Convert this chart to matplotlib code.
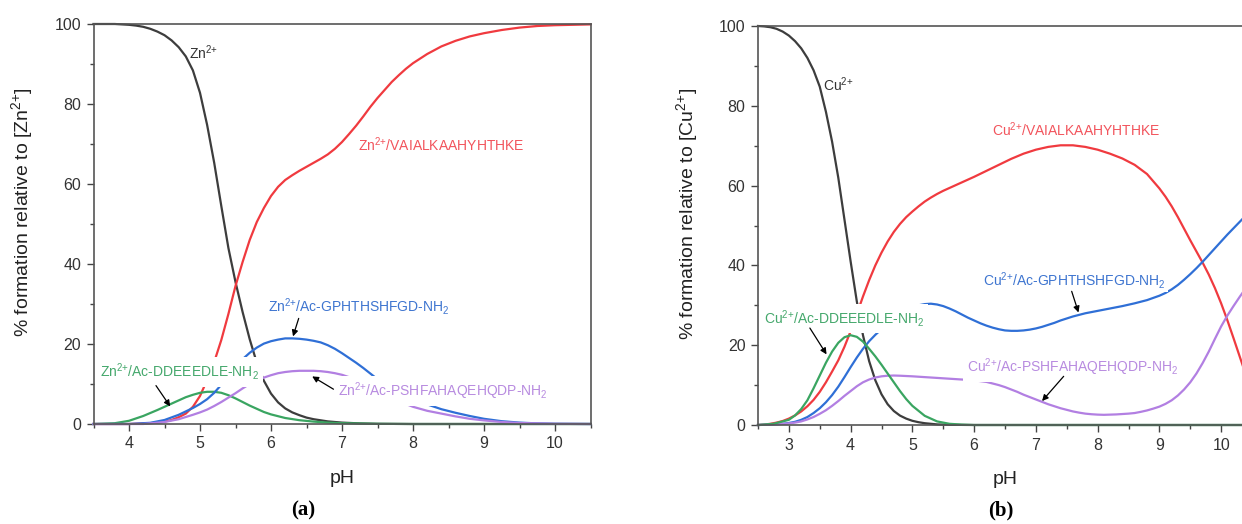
import matplotlib
matplotlib.use("Agg")
import matplotlib.pyplot as plt
from matplotlib.ticker import MultipleLocator

plt.rcParams['font.family'] = ['Liberation Sans', 'DejaVu Sans']
plt.rcParams['mathtext.fontset'] = 'custom'
plt.rcParams['mathtext.rm'] = 'Liberation Sans'
plt.rcParams['mathtext.it'] = 'Liberation Sans:italic'
plt.rcParams['mathtext.bf'] = 'Liberation Sans:bold'

# ---------------- Panel (a): Zn(II) ----------------
zn_free_ph = [3.5, 3.8, 4.0, 4.1, 4.2, 4.3, 4.4, 4.5, 4.6, 4.7, 4.8, 4.9, 5.0, 5.1, 5.2,
              5.3, 5.4, 5.5, 5.6, 5.7, 5.8, 5.9, 6.0, 6.1, 6.2, 6.3, 6.4, 6.5, 6.6, 6.8,
              7.0, 7.25, 7.5, 8.0, 10.5]
zn_free = [100, 100, 99.8, 99.6, 99.3, 98.8, 98.1, 97.2, 95.9, 94.2, 91.9, 88.4, 82.8,
           74.8, 65.3, 54.5, 44, 35.5, 28, 21.2, 15.3, 10.8, 7.6, 5.4, 3.9, 2.9, 2.2,
           1.6, 1.2, 0.65, 0.35, 0.15, 0.05, 0, 0]

zn_vai_ph = [3.5, 4.0, 4.4, 4.5, 4.6, 4.7, 4.8, 4.9, 5.0, 5.1, 5.2, 5.3, 5.4, 5.5, 5.6,
             5.7, 5.8, 5.9, 6.0, 6.1, 6.2, 6.3, 6.4, 6.5, 6.6, 6.7, 6.8, 6.9, 7.0, 7.1,
             7.2, 7.3, 7.4, 7.5, 7.6, 7.7, 7.8, 7.9, 8.0, 8.2, 8.4, 8.6, 8.8, 9.0, 9.25,
             9.5, 9.75, 10.0, 10.5]
zn_vai = [0, 0, 0.3, 0.6, 1, 1.7, 2.6, 4.3, 7, 11, 15.5, 21, 27.5, 34.5, 40.5, 46, 50.5,
          54, 57, 59.3, 61, 62.2, 63.3, 64.3, 65.3, 66.3, 67.4, 68.8, 70.5, 72.5, 74.6,
          76.9, 79.3, 81.5, 83.5, 85.5, 87.2, 88.8, 90.2, 92.5, 94.4, 95.8, 96.9, 97.7,
          98.5, 99.1, 99.5, 99.7, 99.9]

zn_gph_ph = [3.5, 4.0, 4.3, 4.5, 4.7, 4.9, 5.0, 5.1, 5.2, 5.3, 5.4, 5.5, 5.6, 5.7, 5.8,
             5.9, 6.0, 6.1, 6.2, 6.3, 6.4, 6.5, 6.6, 6.7, 6.8, 6.9, 7.0, 7.1, 7.2, 7.3,
             7.4, 7.5, 7.6, 7.7, 7.8, 7.9, 8.0, 8.2, 8.4, 8.6, 8.8, 9.0, 9.25, 9.5,
             9.75, 10.0, 10.5]
zn_gph = [0, 0, 0.3, 1, 2.3, 4, 5, 6.2, 7.8, 9.8, 12, 14.3, 16.2, 17.8, 19.1,
          20.1, 20.7, 21.1, 21.4, 21.4, 21.3, 21.1, 20.8, 20.4, 19.7, 18.8, 17.7, 16.5,
          15.3, 14, 12.6, 11.2, 10, 8.9, 7.9, 7, 6.2, 4.9, 3.7, 2.8, 2, 1.3, 0.7, 0.35,
          0.15, 0.05, 0]

zn_psh_ph = [3.5, 4.2, 4.5, 4.7, 4.9, 5.0, 5.1, 5.2, 5.3, 5.4, 5.5, 5.6, 5.7, 5.8, 5.9,
             6.0, 6.1, 6.2, 6.3, 6.4, 6.5, 6.6, 6.7, 6.8, 6.9, 7.0, 7.1, 7.2, 7.3, 7.4,
             7.5, 7.6, 7.7, 7.8, 7.9, 8.0, 8.2, 8.4, 8.6, 8.8, 9.0, 9.25, 9.5, 10.0, 10.5]
zn_psh = [0, 0, 0.5, 1.2, 2.3, 2.9, 3.6, 4.5, 5.5, 6.6, 7.7, 8.9, 10, 10.9, 11.6,
          12.2, 12.7, 13, 13.2, 13.3, 13.3, 13.3, 13.2, 13, 12.7, 12.3, 11.7, 11, 10.2,
          9.3, 8.4, 7.5, 6.6, 5.8, 5, 4.3, 3.3, 2.6, 1.9, 1.3, 0.9, 0.5, 0.25, 0.05, 0]

zn_dde_ph = [3.5, 3.8, 4.0, 4.2, 4.4, 4.6, 4.8, 4.9, 5.0, 5.1, 5.2, 5.3, 5.4, 5.5, 5.6,
             5.7, 5.8, 5.9, 6.0, 6.2, 6.4, 6.6, 6.8, 7.0, 7.5, 8.0, 10.5]
zn_dde = [0, 0.2, 0.8, 2, 3.5, 5.1, 6.7, 7.3, 7.8, 8.05, 8.05, 7.8, 7.2, 6.4, 5.5,
          4.6, 3.8, 3, 2.4, 1.5, 0.95, 0.6, 0.35, 0.2, 0.05, 0, 0]

# ---------------- Panel (b): Cu(II) ----------------
cu_free_ph = [2.5, 2.6, 2.7, 2.8, 2.9, 3.0, 3.1, 3.2, 3.3, 3.4, 3.5, 3.6, 3.7, 3.8, 3.9,
              4.0, 4.1, 4.2, 4.3, 4.4, 4.5, 4.6, 4.7, 4.8, 4.9, 5.0, 5.1, 5.2, 5.4, 5.6,
              6.0, 10.5]
cu_free = [100, 99.9, 99.7, 99.3, 98.6, 97.6, 96.2, 94.4, 92, 88.9, 84.8, 78.5, 71,
           62, 51.5, 41, 31, 22.5, 16, 11.2, 7.7, 5.2, 3.5, 2.35, 1.6, 1.05, 0.7, 0.45,
           0.15, 0.05, 0, 0]

cu_vai_ph = [2.5, 2.6, 2.7, 2.8, 2.9, 3.0, 3.1, 3.2, 3.3, 3.4, 3.5, 3.6, 3.7, 3.8, 3.9,
             4.0, 4.1, 4.2, 4.3, 4.4, 4.5, 4.6, 4.7, 4.8, 4.9, 5.0, 5.1, 5.2, 5.3, 5.4,
             5.5, 5.6, 5.7, 5.8, 5.9, 6.0, 6.2, 6.4, 6.6, 6.8, 7.0, 7.2, 7.4, 7.6, 7.8,
             8.0, 8.2, 8.4, 8.6, 8.8, 9.0, 9.1, 9.2, 9.3, 9.4, 9.5, 9.6, 9.7, 9.8, 9.9,
             10.0, 10.1, 10.2, 10.3, 10.4, 10.5]
cu_vai = [0, 0.1, 0.3, 0.6, 1.0, 1.6, 2.4, 3.4, 4.7, 6.3, 8.3, 10.7, 13.4, 16.2, 19.6,
          23.5, 27.8, 32.2, 36.3, 40, 43.2, 46, 48.4, 50.4, 52.1, 53.5, 54.8, 56, 57,
          57.9, 58.7, 59.4, 60.1, 60.8, 61.5, 62.2, 63.7, 65.2, 66.7, 68, 69, 69.7, 70.1,
          70.1, 69.7, 69, 68, 66.8, 65.2, 62.9, 59.3, 57.2, 54.8, 52.1, 49.2, 46.3, 43.5,
          40.7, 37.7, 34.3, 30.5, 26.3, 21.8, 17.2, 12.6, 8.2]

cu_gph_ph = [2.5, 2.7, 2.9, 3.0, 3.1, 3.2, 3.3, 3.4, 3.5, 3.6, 3.7, 3.8, 3.9, 4.0, 4.1,
             4.2, 4.3, 4.4, 4.5, 4.6, 4.7, 4.8, 4.9, 5.0, 5.1, 5.2, 5.3, 5.4, 5.5, 5.6,
             5.7, 5.8, 5.9, 6.0, 6.1, 6.2, 6.3, 6.4, 6.5, 6.6, 6.7, 6.8, 6.9, 7.0, 7.1,
             7.2, 7.3, 7.4, 7.5, 7.6, 7.7, 7.8, 8.0, 8.2, 8.4, 8.6, 8.8, 9.0, 9.1, 9.2,
             9.3, 9.4, 9.5, 9.6, 9.7, 9.8, 9.9, 10.0, 10.1, 10.2, 10.3, 10.4, 10.5]
cu_gph = [0, 0.1, 0.3, 0.5, 0.8, 1.3, 2.0, 3.0, 4.2, 5.7, 7.5, 9.6, 12, 14.5, 16.9,
          19.1, 21, 22.6, 24, 25.3, 26.5, 27.6, 28.6, 29.4, 30, 30.3, 30.4, 30.2, 29.8,
          29.2, 28.5, 27.7, 26.9, 26.2, 25.5, 24.9, 24.4, 24, 23.7, 23.6, 23.6, 23.7,
          23.9, 24.2, 24.6, 25.1, 25.6, 26.2, 26.7, 27.2, 27.6, 28, 28.6, 29.2, 29.8,
          30.5, 31.3, 32.4, 33.1, 34, 35.1, 36.4, 37.8, 39.3, 40.9, 42.6, 44.3, 46,
          47.7, 49.3, 50.9, 52.5, 54]

cu_psh_ph = [2.5, 2.8, 3.0, 3.1, 3.2, 3.3, 3.4, 3.5, 3.6, 3.7, 3.8, 3.9, 4.0, 4.1, 4.2,
             4.3, 4.4, 4.5, 4.6, 4.7, 4.8, 5.0, 5.2, 5.4, 5.6, 5.8, 6.0, 6.1, 6.2, 6.3,
             6.4, 6.5, 6.6, 6.7, 6.8, 6.9, 7.0, 7.1, 7.2, 7.3, 7.4, 7.5, 7.6, 7.7, 7.8,
             7.9, 8.0, 8.1, 8.2, 8.3, 8.4, 8.5, 8.6, 8.7, 8.8, 8.9, 9.0, 9.1, 9.2, 9.3,
             9.4, 9.5, 9.6, 9.7, 9.8, 9.9, 10.0, 10.1, 10.2, 10.3, 10.4, 10.5]
cu_psh = [0, 0.15, 0.4, 0.6, 0.9, 1.4, 2.0, 2.8, 3.7, 4.8, 6, 7.3, 8.5, 9.7, 10.7,
          11.4, 11.9, 12.2, 12.35, 12.4, 12.35, 12.2, 12, 11.8, 11.6, 11.4, 11.2, 11,
          10.8, 10.4, 10, 9.5, 8.9, 8.3, 7.6, 7, 6.4, 5.8, 5.2, 4.7, 4.2, 3.8, 3.4, 3.1,
          2.85, 2.7, 2.6, 2.55, 2.6, 2.65, 2.75, 2.85, 3.0, 3.3, 3.65, 4.1, 4.6, 5.3,
          6.2, 7.4, 8.9, 10.7, 12.9, 15.5, 18.4, 21.6, 24.7, 27.4, 29.8, 32.1, 34.3, 36.4]

cu_dde_ph = [2.5, 2.75, 3.0, 3.1, 3.2, 3.3, 3.4, 3.5, 3.6, 3.7, 3.8, 3.9, 4.0, 4.1,
             4.2, 4.3, 4.4, 4.5, 4.6, 4.7, 4.8, 4.9, 5.0, 5.2, 5.4, 5.6, 5.8, 6.0, 10.5]
cu_dde = [0, 0.3, 1.3, 2.4, 4, 6.2, 9.2, 12.4, 15.6, 18.4, 20.6, 22, 22.5, 22.1,
          20.9, 19.1, 17.2, 15.1, 12.9, 10.7, 8.5, 6.5, 4.8, 2.3, 0.9, 0.3, 0.1, 0, 0]

x_ticks_a = [4, 5, 6, 7, 8, 9, 10]
x_ticks_b = [3, 4, 5, 6, 7, 8, 9, 10]
y_ticks = [0, 20, 40, 60, 80, 100]

C_BLACK = '#3d3d3d'
C_RED = '#f03a3f'
C_BLUE = '#2f6fd6'
C_GREEN = '#3aa561'
C_PURPLE = '#b27fe2'
T_RED = '#f2545c'
T_BLUE = '#3e75d0'
T_GREEN = '#45a86c'
T_PURPLE = '#b88be0'

SUP = r'$^{2{+}}$'

fig = plt.figure(figsize=(12.42, 5.24), dpi=100)
axA = fig.add_axes([93.5 / 1242, 1 - 424 / 524, 497 / 1242, 400 / 524])
axB = fig.add_axes([758 / 1242, 1 - 425 / 524, 494 / 1242, 399 / 524])


def style(ax, xlim, xticks, ylabel):
    ax.set_xlim(*xlim)
    ax.set_ylim(0, 100)
    ax.set_xticks(xticks)
    ax.set_yticks(y_ticks)
    ax.xaxis.set_minor_locator(MultipleLocator(0.5))
    ax.yaxis.set_minor_locator(MultipleLocator(10))
    ax.tick_params(which='both', direction='out', colors='#444', labelcolor='#333',
                   labelsize=11.5, width=1.0)
    ax.tick_params(which='major', length=5, pad=4)
    ax.tick_params(which='minor', length=3)
    for s in ax.spines.values():
        s.set_color('#555')
        s.set_linewidth(1.2)
    ax.set_xlabel('pH', fontsize=14, color='#222')
    ax.xaxis.set_label_coords(0.5, -0.115)
    ax.set_ylabel(ylabel, fontsize=14, color='#222')
    ax.yaxis.set_label_coords(-0.118, 0.53)


LW = 1.6
boxkw = dict(facecolor='white', edgecolor='none', pad=3.0)
boxsm = dict(facecolor='white', edgecolor='none', pad=1.0)

# Panel a
axA.plot(zn_free_ph, zn_free, color=C_BLACK, lw=LW, clip_on=False)
axA.plot(zn_vai_ph, zn_vai, color=C_RED, lw=LW, clip_on=False)
axA.plot(zn_dde_ph, zn_dde, color=C_GREEN, lw=LW, clip_on=False)
axA.plot(zn_gph_ph, zn_gph, color=C_BLUE, lw=LW, clip_on=False)
axA.plot(zn_psh_ph, zn_psh, color=C_PURPLE, lw=LW, clip_on=False)
style(axA, (3.5, 10.5), x_ticks_a, '% formation relative to [Zn' + SUP + ']')

fs = 10
axA.text(4.84, 92.7, 'Zn' + SUP, color='#333', fontsize=fs, va='center', ha='left')
axA.text(7.23, 69.75, 'Zn' + SUP + '/VAIALKAAHYHTHKE', color=T_RED, fontsize=fs,
         va='center', ha='left', bbox=boxsm)
axA.text(5.96, 29.3, 'Zn' + SUP + r'/Ac-GPHTHSHFGD-NH$_2$', color=T_BLUE, fontsize=fs,
         va='center', ha='left', bbox=boxsm)
axA.text(3.59, 13.0, 'Zn' + SUP + r'/Ac-DDEEEDLE-NH$_2$', color=T_GREEN, fontsize=fs,
         va='center', ha='left', bbox=boxkw, zorder=4)
axA.text(6.94, 8.25, 'Zn' + SUP + r'/Ac-PSHFAHAQEHQDP-NH$_2$', color=T_PURPLE,
         fontsize=fs, va='center', ha='left', bbox=boxkw, zorder=4)
arrow = dict(arrowstyle='-|>', color='black', lw=0.9, mutation_scale=9,
             shrinkA=0, shrinkB=0)
axA.annotate('', xy=(6.31, 21.9), xytext=(6.39, 26.4), arrowprops=arrow)
axA.annotate('', xy=(6.58, 11.9), xytext=(6.88, 8.7), arrowprops=arrow, zorder=5)
axA.annotate('', xy=(4.58, 4.4), xytext=(4.38, 9.6), arrowprops=arrow, zorder=5)

# Panel b
axB.plot(cu_free_ph, cu_free, color=C_BLACK, lw=LW, clip_on=False)
axB.plot(cu_vai_ph, cu_vai, color=C_RED, lw=LW, clip_on=False)
axB.plot(cu_gph_ph, cu_gph, color=C_BLUE, lw=LW, clip_on=False)
axB.plot(cu_psh_ph, cu_psh, color=C_PURPLE, lw=LW, clip_on=False)
axB.plot(cu_dde_ph, cu_dde, color=C_GREEN, lw=LW, clip_on=False)
style(axB, (2.5, 10.5), x_ticks_b, '% formation relative to [Cu' + SUP + ']')

axB.text(3.56, 85.2, 'Cu' + SUP, color='#333', fontsize=fs, va='center', ha='left')
axB.text(6.29, 73.9, 'Cu' + SUP + '/VAIALKAAHYHTHKE', color=T_RED, fontsize=fs,
         va='center', ha='left', bbox=boxsm)
axB.text(6.15, 36.3, 'Cu' + SUP + r'/Ac-GPHTHSHFGD-NH$_2$', color=T_BLUE, fontsize=fs,
         va='center', ha='left', bbox=boxsm)
axB.text(2.59, 26.7, 'Cu' + SUP + r'/Ac-DDEEEDLE-NH$_2$', color=T_GREEN, fontsize=fs,
         va='center', ha='left', bbox=boxkw, zorder=4)
axB.text(5.88, 14.6, 'Cu' + SUP + r'/Ac-PSHFAHAQEHQDP-NH$_2$', color=T_PURPLE,
         fontsize=fs, va='center', ha='left', bbox=boxkw, zorder=4)
axB.annotate('', xy=(7.69, 28.2), xytext=(7.58, 33.5), arrowprops=arrow)
axB.annotate('', xy=(3.61, 17.7), xytext=(3.34, 24.3), arrowprops=arrow, zorder=5)
axB.annotate('', xy=(7.1, 6.0), xytext=(7.45, 12.2), arrowprops=arrow, zorder=5)

fig.text(303 / 1242, 1 - 510 / 524, '(a)', fontsize=15, fontweight='bold',
         family='Liberation Serif', ha='center', va='center')
fig.text(1001 / 1242, 1 - 510 / 524, '(b)', fontsize=15, fontweight='bold',
         family='Liberation Serif', ha='center', va='center')

fig.savefig('out.png', dpi=100)
